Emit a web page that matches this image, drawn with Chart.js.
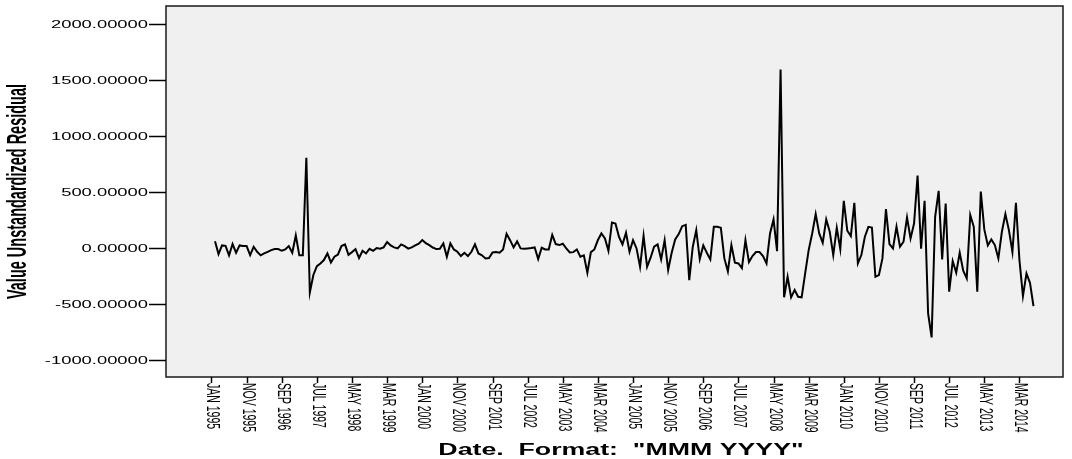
<!DOCTYPE html>
<html>
<head>
<meta charset="utf-8">
<script src="https://cdn.jsdelivr.net/npm/chart.js@4.4.1/dist/chart.umd.min.js"></script>
<style>
  html, body { margin: 0; padding: 0; background: #ffffff; }
  #wrap { width: 1072px; height: 459px; }
</style>
</head>
<body>
<div id="wrap"><canvas id="chart" width="1072" height="459"></canvas></div>
<script>
// Unstandardized residuals, monthly from FEB 1995 (month index 1) to JUL 2014 (index 234)
const firstMonthIndex = 1;
const residuals = [
  62, -54, 24, 20, -65, 36, -42, 24, 18, 18,
  -62, 12, -33, -65, -48, -33, -18, -9, -9, -24,
  -12, 18, -42, 113, -65, -65, 807, -396, -240, -161,
  -137, -107, -48, -128, -77, -57, 18, 33, -60, -36,
  -9, -89, -24, -48, -6, -24, 0, -6, 6, 54,
  24, 6, -3, 33, 18, -5, 6, 24, 40, 72,
  45, 27, 5, -9, -6, 42, -77, 42, -12, -33,
  -71, -42, -71, -33, 33, -48, -65, -92, -89, -39,
  -36, -42, -12, 128, 71, 6, 60, -3, -6, -3,
  0, 6, -98, 3, -12, -12, 119, 36, 27, 39,
  -3, -39, -36, -12, -77, -65, -220, -36, -12, 72,
  131, 87, -24, 229, 220, 101, 33, 137, -33, 71,
  -3, -167, 110, -167, -86, 12, 33, -101, 71, -196,
  -42, 77, 125, 196, 208, -286, 10, 161, -98, 24,
  -42, -101, 190, 190, 181, -92, -208, 27, -131, -137,
  -179, 71, -125, -71, -36, -36, -71, -137, 131, 256,
  -27, 1596, -440, -256, -440, -375, -435, -440, -226, -18,
  131, 304, 131, 48, 256, 146, -62, 181, -9, 423,
  155, 107, 405, -137, -62, 101, 190, 184, -256, -241,
  -92, 348, 36, -3, 190, 12, 57, 274, 86, 220,
  649, -6, 423, -583, -798, 280, 512, -101, 399, -390,
  -116, -220, -42, -202, -271, 295, 190, -390, 506, 167,
  24, 77, 27, -92, 146, 304, 161, -33, 405, -107,
  -429, -226, -310, -518
];

// Date axis: month index (0 = JAN 1995) and the label shown at it
const tickMonths = [0, 10, 20, 30, 40, 50, 60, 70, 80, 90, 100, 110,
                    120, 130, 140, 150, 160, 170, 180, 190, 200, 210, 220, 230];
const tickLabels = ['JAN 1995', 'NOV 1995', 'SEP 1996', 'JUL 1997', 'MAY 1998', 'MAR 1999',
                    'JAN 2000', 'NOV 2000', 'SEP 2001', 'JUL 2002', 'MAY 2003', 'MAR 2004',
                    'JAN 2005', 'NOV 2005', 'SEP 2006', 'JUL 2007', 'MAY 2008', 'MAR 2009',
                    'JAN 2010', 'NOV 2010', 'SEP 2011', 'JUL 2012', 'MAY 2013', 'MAR 2014'];

// Value axis ticks
const yTickValues = [-1000, -500, 0, 500, 1000, 1500, 2000];

const yTitle = 'Value Unstandardized Residual';
const xTitle = 'Date.  Format:  "MMM YYYY"';

const FONT = '"Liberation Sans", Arial, Helvetica, sans-serif';
const STRETCH = 1.67;   // wide, horizontally stretched lettering

function drawText(ctx, text, x, y, font, align, baseline, angle, stretch) {
  ctx.save();
  ctx.translate(x, y);
  ctx.scale(stretch || STRETCH, 1);
  ctx.rotate(angle || 0);
  ctx.font = font;
  ctx.fillStyle = '#000000';
  ctx.textAlign = align;
  ctx.textBaseline = baseline;
  ctx.fillText(text, 0, 0);
  ctx.restore();
}

const framePlugin = {
  id: 'frame',
  beforeDatasetsDraw(chart) {
    const { ctx, chartArea: a } = chart;
    ctx.save();
    ctx.fillStyle = '#f0f0f0';
    ctx.fillRect(a.left, a.top, a.right - a.left, a.bottom - a.top);
    ctx.restore();
  },
  afterDatasetsDraw(chart) {
    const { ctx, chartArea: a, scales } = chart;
    const xs = scales.x, ys = scales.y;
    ctx.save();
    // plot frame
    ctx.strokeStyle = '#1a1a1a';
    ctx.lineWidth = 1.5;
    ctx.strokeRect(a.left, a.top, a.right - a.left, a.bottom - a.top);

    // value axis ticks and labels
    ctx.lineWidth = 1.5;
    ctx.strokeStyle = '#000000';
    yTickValues.forEach(v => {
      const y = Math.round(ys.getPixelForValue(v)) + 0.5;
      ctx.beginPath();
      ctx.moveTo(a.left - 17, y);
      ctx.lineTo(a.left, y);
      ctx.stroke();
      drawText(ctx, v.toFixed(5), a.left - 18, y + 0.5, '11px ' + FONT, 'right', 'middle');
    });

    // date axis ticks and labels
    ctx.lineWidth = 1.5;
    tickMonths.forEach((m, i) => {
      const x = Math.round(xs.getPixelForValue(m)) + 0.5;
      ctx.beginPath();
      ctx.moveTo(x, a.bottom);
      ctx.lineTo(x, a.bottom + 6);
      ctx.stroke();
      drawText(ctx, tickLabels[i], x, a.bottom + 6, '10.5px ' + FONT, 'left', 'middle', Math.PI / 2);
    });

    // axis titles
    drawText(ctx, yTitle, 18.5, (a.top + a.bottom) / 2, 'bold 14.5px ' + FONT, 'center', 'middle', -Math.PI / 2, 1.9);
    drawText(ctx, xTitle, 621, 455, 'bold 16px ' + FONT, 'center', 'alphabetic');
    ctx.restore();
  }
};

new Chart(document.getElementById('chart'), {
  type: 'line',
  data: {
    datasets: [{
      data: residuals.map((v, i) => ({ x: firstMonthIndex + i, y: v })),
      borderColor: '#000000',
      borderWidth: 2,
      pointRadius: 0,
      tension: 0,
      fill: false
    }]
  },
  options: {
    responsive: false,
    animation: false,
    devicePixelRatio: 1,
    layout: { padding: { left: 0, right: 9, top: 6, bottom: 0 } },
    plugins: { legend: { display: false }, tooltip: { enabled: false }, title: { display: false } },
    scales: {
      x: {
        type: 'linear',
        min: -12.95,
        max: 242.4,
        grid: { display: false },
        border: { display: false },
        ticks: { display: false },
        afterFit(scale) { scale.height = 82; }
      },
      y: {
        type: 'linear',
        min: -1152,
        max: 2163.5,
        grid: { display: false },
        border: { display: false },
        ticks: { display: false },
        afterFit(scale) { scale.width = 166; }
      }
    }
  },
  plugins: [framePlugin]
});
</script>
</body>
</html>
